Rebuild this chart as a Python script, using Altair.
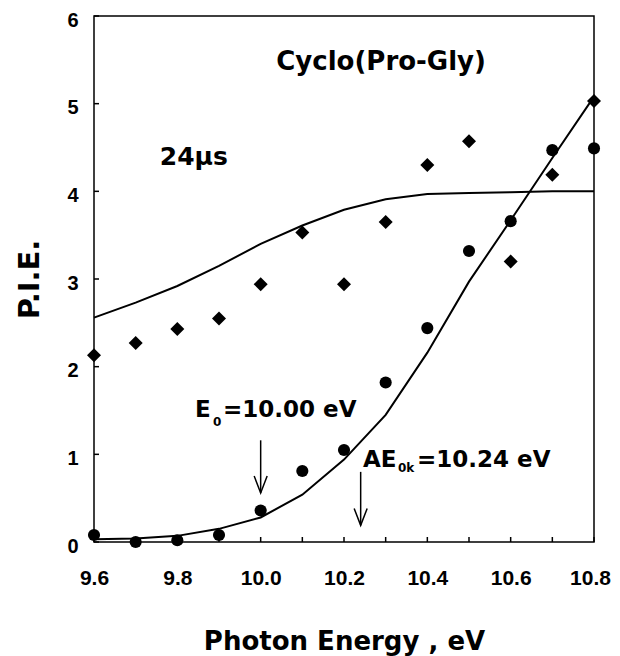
import altair as alt
import pandas as pd

# ---- data ----
energy = [9.6, 9.7, 9.8, 9.9, 10.0, 10.1, 10.2, 10.3, 10.4, 10.5, 10.6, 10.7, 10.8]
pie_diamonds = [2.13, 2.27, 2.43, 2.55, 2.94, 3.53, 2.94, 3.65, 4.30, 4.57, 3.20, 4.19, 5.03]
pie_circles = [0.08, 0.00, 0.02, 0.08, 0.36, 0.81, 1.05, 1.82, 2.44, 3.32, 3.66, 4.47, 4.49]
fit_diamonds = [2.56, 2.73, 2.92, 3.15, 3.40, 3.61, 3.79, 3.91, 3.97, 3.98, 3.99, 4.00, 4.00]
fit_circles = [0.03, 0.04, 0.07, 0.15, 0.28, 0.54, 0.94, 1.45, 2.16, 2.97, 3.67, 4.38, 5.08]

x_label_values = [9.6, 9.8, 10.0, 10.2, 10.4, 10.6, 10.8]
x_tick_values = energy
y_tick_values = [0, 1, 2, 3, 4, 5, 6]

# annotations (data coordinates)
ann_text = ["24μs", "E", "0", "=10.00 eV", "AE", "0k", "=10.24 eV"]
ann_x = [9.758, 9.8424, 9.8856, 9.9096, 10.2456, 10.3296, 10.3752]
ann_y = [4.39, 1.506, 1.369, 1.506, 0.935, 0.844, 0.935]
ann_fs = [25, 23, 12, 23, 23, 12, 23]

title_text = ["Cyclo(Pro-Gly)"]
title_x = [10.289]
title_y = [5.475]

arrow_x = [10.0, 10.24]
arrow_top = [1.16, 0.80]
arrow_tip = [0.56, 0.19]

FONT = "DejaVu Sans"
LFONT = "Liberation Sans"

xs = alt.Scale(domain=[9.6, 10.8], nice=False, zero=False)
ys = alt.Scale(domain=[0, 6], nice=False, zero=False)

x_axis = alt.Axis(
    values=x_label_values, format=".1f", title="Photon Energy , eV",
    labelFont=LFONT, labelFontWeight="bold", labelFontSize=21, labelColor="black",
    labelPadding=25, labelFlush=False, labelOverlap=False,
    labelOffset={"condition": {"test": "datum.value >= 10.75", "value": -4}, "value": 0},
    ticks=False, domain=False, grid=False,
    titleFont=FONT, titleFontWeight="bold", titleFontSize=26, titleColor="black",
    titleX=250, titleY=99, titleAlign="center", titleBaseline="middle",
)
y_axis = alt.Axis(
    values=y_tick_values, format="d", title="P.I.E.",
    labelFont=LFONT, labelFontWeight="bold", labelFontSize=20, labelColor="black",
    labelPadding=16, labelOffset=4, labelFlush=False, labelOverlap=False,
    ticks=False, domain=False, grid=False,
    titleFont=FONT, titleFontWeight="bold", titleFontSize=29, titleColor="black",
    titleAngle=270, titleX=-65, titleY=263, titleAlign="center", titleBaseline="middle",
)

X = alt.X("energy:Q", scale=xs, axis=x_axis)
Y = alt.Y("pie:Q", scale=ys, axis=y_axis)

fit_df = pd.DataFrame({
    "energy": energy * 2,
    "pie": fit_diamonds + fit_circles,
    "series": ["diamond_fit"] * len(energy) + ["circle_fit"] * len(energy),
})
dia_df = pd.DataFrame({"energy": energy, "pie": pie_diamonds})
cir_df = pd.DataFrame({"energy": energy, "pie": pie_circles})
xt_df = pd.DataFrame({"energy": x_tick_values})
yt_df = pd.DataFrame({"pie": y_tick_values})
ann_df = pd.DataFrame({"energy": ann_x, "pie": ann_y, "text": ann_text, "fs": ann_fs})
tit_df = pd.DataFrame({"energy": title_x, "pie": title_y, "text": title_text})
arr_df = pd.DataFrame({"energy": arrow_x, "pie": arrow_top, "tip": arrow_tip})

lines = alt.Chart(fit_df).mark_line(color="black", strokeWidth=2).encode(
    x=X, y=Y, detail="series:N")
circles = alt.Chart(cir_df).mark_point(
    shape="circle", filled=True, size=147, color="black", opacity=1).encode(x=X, y=Y)
diamonds = alt.Chart(dia_df).mark_point(
    shape="diamond", filled=True, size=196, color="black", opacity=1).encode(x=X, y=Y)
xticks = alt.Chart(xt_df).mark_rule(color="black", strokeWidth=1.5).encode(
    x=X, y=alt.value(526), y2=alt.value(521))
yticks = alt.Chart(yt_df).mark_rule(color="black", strokeWidth=1.5).encode(
    y=Y, x=alt.value(0), x2=alt.value(5))
ann = alt.Chart(ann_df).mark_text(
    align="left", baseline="middle", font=FONT, fontWeight="bold", color="black").encode(
    x=X, y=Y, text="text:N", size=alt.Size("fs:Q", scale=None, legend=None))
tit = alt.Chart(tit_df).mark_text(
    align="center", baseline="middle", font=FONT, fontWeight="bold", fontSize=26,
    color="black").encode(x=X, y=Y, text="text:N")
arrow_shaft = alt.Chart(arr_df).mark_rule(color="black", strokeWidth=1.5).encode(
    x=X, y=Y, y2="tip:Q")
arrow_head = alt.Chart(arr_df).mark_point(
    shape="M-1,-2.6L0,0L1,-2.6", size=169, filled=False, color="black",
    strokeWidth=1.5, opacity=1).encode(x=X, y=alt.Y("tip:Q", scale=ys, axis=y_axis))

chart = alt.layer(
    lines, circles, diamonds, xticks, yticks, ann, tit, arrow_shaft, arrow_head
).properties(
    width=500, height=526,
    autosize=alt.AutoSizeParams(type="none"),
    padding={"left": 86, "top": 8, "right": 18, "bottom": 114},
).configure_view(stroke="black", strokeWidth=1.5)

chart.save("out.html", embed_options={"renderer": "svg", "actions": False})
